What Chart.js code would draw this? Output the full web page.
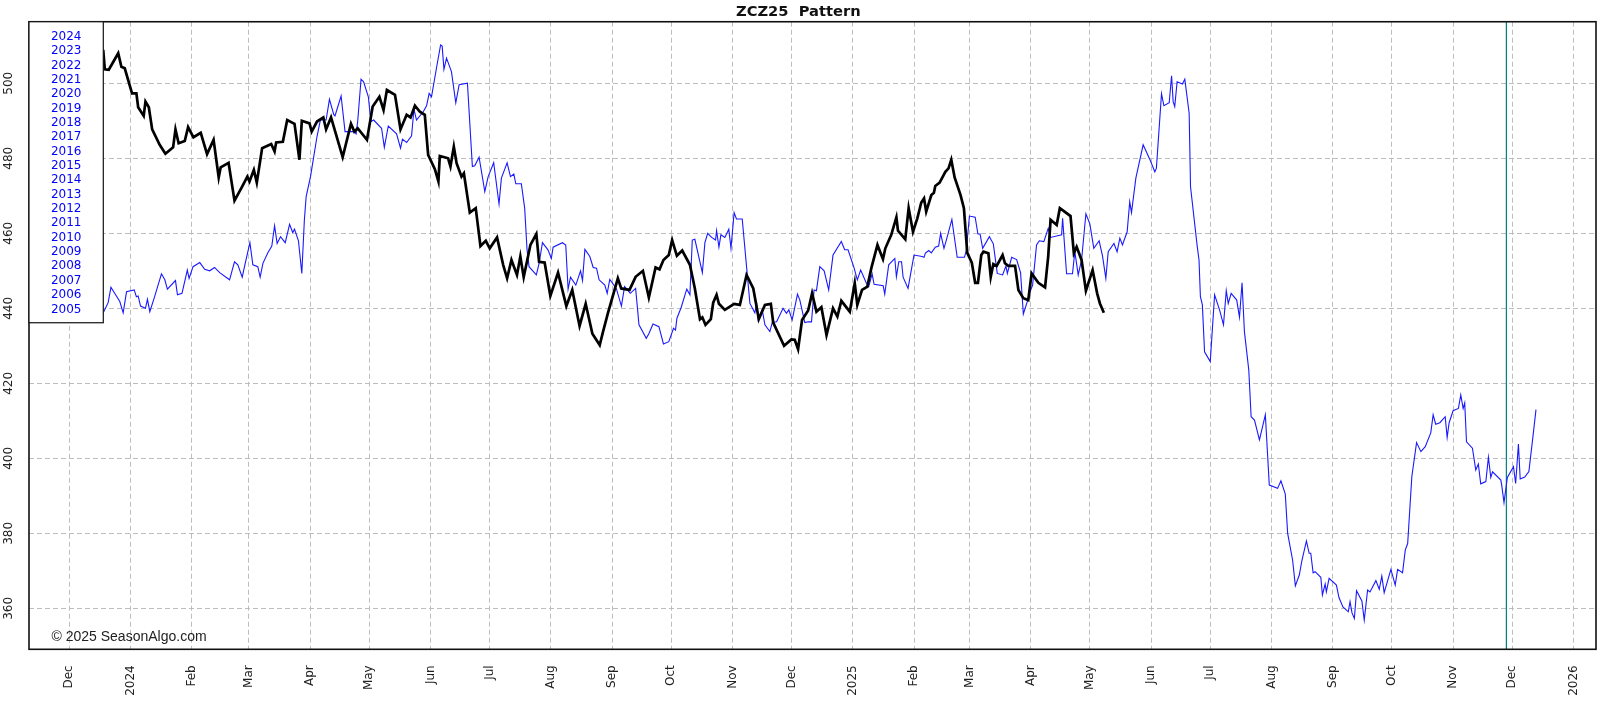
<!DOCTYPE html>
<html lang="en">
<head>
    <meta charset="UTF-8">
    <script src="https://cdn.jsdelivr.net/npm/chart.js"></script>
    <title>ZCZ25 Pattern</title>
    <style>
        body { margin: 0; background: #fff; }
    </style>
</head>
<body>
    <canvas id="pattern" width="1604" height="708"></canvas>
<script>
    // x = days since 1 Dec 2023
    const tickDays = [0, 31, 62, 91, 122, 152, 183, 213, 244, 275, 305, 336, 366, 397, 428, 456, 487, 517, 548, 578, 609, 640, 670, 701, 731, 762];
    const tickLabels = ['Dec', '2024', 'Feb', 'Mar', 'Apr', 'May', 'Jun', 'Jul', 'Aug', 'Sep', 'Oct', 'Nov', 'Dec', '2025', 'Feb', 'Mar', 'Apr', 'May', 'Jun', 'Jul', 'Aug', 'Sep', 'Oct', 'Nov', 'Dec', '2026'];
    const yTicks = [360, 380, 400, 420, 440, 460, 480, 500];
    const legendYears = ['2024', '2023', '2022', '2021', '2020', '2019', '2018', '2017', '2016', '2015', '2014', '2013', '2012', '2011', '2010', '2009', '2008', '2007', '2006', '2005'];
    const markerDay = 728;

    // ZCZ25 (black)
    const blackDays = [17.2, 18, 20, 24.8, 26.4, 28.1, 31.8, 34, 34.9, 37.7, 38.6, 40.3, 42, 45.8, 48.7, 52.6, 53.8, 55.4, 58.5, 60.2, 62.9, 66.6, 69.8, 73.1, 75.7, 76.7, 80.7, 83.7, 87.5, 90.2, 91.3, 93.5, 95, 97.7, 102.3, 104, 104.8, 108.2, 110.4, 114.1, 116.6, 117.8, 121.7, 122.8, 125.5, 128.7, 130.1, 132.6, 138.5, 142.7, 144.4, 146.1, 150.8, 153.7, 157.1, 159.2, 160.9,
        165, 167.8, 170.9, 172.9, 175.1, 177.6, 180.1, 181.8, 185.2, 187, 187.7, 191.9, 193.1, 194.8, 196.2, 198.7, 199.9, 202.9, 205.9, 208.3, 211, 213, 216.7, 219.8, 221.8, 224, 226.8, 228.5, 230.2, 233.6, 236.6, 238, 240.8, 243.7, 247.6, 251.8, 254.8, 258.5, 261.6, 265, 268.7, 270.4, 272.9, 277.9, 279.6, 283.8, 286.9, 290.6, 293.6, 297, 299, 301, 303.7, 305.4, 307.8, 310.5,
        314.4, 316.9, 319.5, 320.7, 322.3, 325, 326.2, 327.9, 329.1, 332.1, 336.8, 339.7, 343.1, 346.5, 349.3, 352.4, 355.4, 356.6, 362.1, 365.8, 367.5, 369.2, 371.2, 374.3, 376.3, 378.5, 381, 383.6, 386.9, 389.1, 391.1, 395.4, 397.9, 399.2, 401.6, 404.3, 406.3, 409.4, 412.2, 413.4, 416.4, 419, 419.8, 423.5, 425.2, 427.4, 429.6, 431.6, 433, 434.1, 436.7, 438, 438.7, 440.9, 443.8, 445.4, 446.8, 448.5, 451.5, 453.2, 454.9, 457.2, 458.9, 460.3, 462,
        463.1, 465.6, 466.8, 468.1, 469.8, 472.8, 474, 475.7, 479.1, 480.8, 483.3, 485.8, 487.5, 490.9, 494.3, 495.9, 497.1, 500.2, 501.8, 507.2, 508.9, 510.3, 512.8, 515, 518.4, 520.7, 522.1, 524.1];
    const blackVals = [508.9, 503.7, 503.6, 508, 504.4, 504, 497.3, 497.3, 493.6, 491.3, 495.1, 493.6, 487.7, 483.6, 481.2, 482.9, 487.7, 484, 484.6, 488.3, 485.6, 486.8, 481.1, 484.9, 474.9, 477.6, 478.8, 468.7, 472.4, 475.1, 473.8, 476.9, 473.5, 482.7, 483.8, 481.8, 484.2, 484.4, 490.2, 489.2, 479.6, 490, 489.3, 487.1, 489.8, 490.9, 487.7, 490.9, 480.3, 489.2, 487.1, 488, 484.9, 493.8, 496.4, 492.9, 498.2,
        496.9, 487.7, 491.6, 490.9, 494, 492.4, 491.6, 480.9, 477.1, 473.8, 480.6, 480, 477.8, 483.1, 478.7, 475.1, 476, 465.5, 466.7, 456.6, 458, 456, 458.9, 451.6, 448, 452.9, 448.9, 453.8, 448.3, 456.9, 459.8, 452.4, 452.2, 443.3, 449.5, 440.6, 444.9, 435.3, 441.2, 433.2, 430.2, 433.8, 438.8, 448, 445.3, 444.9, 448.4, 450, 442.9, 450.9, 450.4, 452.9, 454.2, 458.2, 454, 455.4,
        451.6, 445.3, 437.1, 437.6, 435.6, 437.1, 441.5, 443.6, 441.2, 439.6, 441.2, 440.9, 448.9, 445.3, 437.1, 440.9, 441.2, 436.2, 430, 431.7, 431.6, 429.1, 436.9, 439.4, 444, 439.1, 440.3, 432.9, 440, 437.8, 442, 439.1, 446.7, 440.9, 444.9, 445.8, 450.7, 456.9, 453.1, 456, 459.6, 464.3, 460.7, 458.4, 466.7, 460.4, 464, 468.2, 469.3, 465.8, 470.2, 470.8, 472.6, 473.5, 476.4, 477.3, 479.6, 474.9, 470.2, 466.7, 454.8, 452.2, 446.8, 446.8, 454.2,
        455.1, 454.7, 448.4, 451.8, 451.3, 454.2, 452, 451.3, 451.3, 444.9, 442.7, 442.2, 449.3, 446.8, 445.6, 453.8, 463.6, 462.2, 466.7, 464.6, 454.7, 456.4, 452.9, 444.7, 450.2, 444, 441.3, 438.8];

    // pattern (blue)
    const blueDays = [17.2, 19.7, 21.1, 25.6, 27.3, 29, 32.9, 34, 34.9, 36.1, 38.6, 39.6, 40.8, 43, 46.7, 48.4, 49.7, 53.8, 54.8, 57.1, 59.8, 60.7, 62.7, 66.1, 68.6, 71.1, 73.6, 76.2, 81.2, 83.7, 85.4, 87.6, 89.3, 91.5, 93, 95.5, 96.7, 98.1, 100.6, 102.6, 104, 105.3, 107, 109.4, 111.6, 113.2, 114.1, 116.1, 117.8, 119.1, 120, 122.2, 125.5, 127.2, 130.1, 131.8, 134, 134.6, 137.7, 139.7, 144.4, 145.3, 146.1, 147.8, 149.1, 151.5, 152.8, 154.2, 158.2, 159.6, 161.6,
        165.8, 167.8, 168.8, 170.9, 173.4, 174.6, 175.9, 179.3, 181, 182.3, 183.5, 186, 188.1, 188.9, 189.8, 191.1, 193.6, 195.8, 197.5, 201.7, 204.2, 205.4, 207.6, 210.5, 212.2, 215, 217.7, 218.9, 221.8, 223.5, 225.2, 226.2, 229, 230.7, 231.9, 232.9, 236.6, 238, 239.7, 242.5, 244.2, 245.1, 249.8, 251.5, 252.7, 253.9, 256.6, 259, 260, 261.2, 263.7, 265.4, 267.1, 268.4, 271.3, 272.5, 273.8, 277.1, 279.7, 281.3, 284.2, 286.9, 288.6, 292.3, 293.6, 295.7, 298.7, 301, 303.7, 306.1, 307.1, 307.8, 310, 312.8,
        314.4, 315.6, 316.9, 320.7, 322, 323.4, 325.4, 327.4, 327.9, 329.1, 330.1, 332.1, 334.1, 335.2, 336.8, 338, 340.9, 343.1, 344.8, 347.3, 348.2, 349, 351, 352.4, 354.9, 356.1, 358.3, 361.6, 363.3, 364.5, 366.2, 368.9, 370.1, 372.6, 374.3, 376, 377.3, 378.5, 380.2, 382.4, 384.7, 386.9, 391.1, 392.8, 394.5, 397.6, 399.2, 400.9, 403.8, 405, 406.7, 407.7, 412.3, 413.1, 415.1, 418.2, 419, 420.2, 421.6, 422.4, 424.9, 427.9, 432, 433, 433.7, 435.4, 436.7, 438.7, 440.4, 441.4, 443.1, 444.3, 447.1, 449.8, 453.5, 454.4, 456, 458.9, 460.3,
        461.4, 462.7, 466.1, 468.1, 470.1, 472.8, 474.5, 475.2, 477.4, 479.9, 481.9, 483.3, 485.3, 486.7, 488, 490, 491.4, 493.7, 495.9, 497.1, 502.7, 503.2, 505.2, 508.2, 509.4, 511.1, 512.8, 515, 517, 519, 521.7, 523.4, 525.1, 526.3, 529.2, 530.8, 532.2, 533.5, 535.9, 537.2, 538.1, 540.3, 544, 547.4, 549.9, 550.7, 553.3, 554.5, 557.2, 558.4, 559.2, 560, 561.2, 563.9, 565.1, 567.3, 568, 571.3,
        572.3, 573, 574, 575.1, 578, 580.2, 582.7, 584.7, 586.1, 587.1, 588.6, 591.4, 592.8, 594.1, 595.3, 597.5, 598.7, 600.4, 602.9, 605.9, 607.9, 612.1, 613.8, 616, 617.2, 619.7, 621.1, 623.1, 624.4, 626.7, 628.1, 628.9, 630.1, 631.1, 634, 634.8, 636.2, 636.8, 638.2, 641.9, 643.2, 645.2, 647.9,
        648.8, 649.8, 651, 652.1, 654.8, 656, 657.7, 658.9, 661.9, 663.6, 664.9, 666.1, 669.5, 671.7, 672.9, 675.4, 676.8, 678, 680.1, 682.5, 684.7, 686.9, 689.7, 690.9, 692.2, 694.3, 697, 698, 699, 701, 703.7, 704.9, 706.1, 706.9, 707.8, 710.8, 712.5, 713.8, 715, 717.6, 718.9, 720.1, 721, 725.2, 725.7, 726.8, 728.5, 731.6, 732.7, 734.1, 735, 737.3, 739.4, 741.5, 743];
    const blueVals = [438.8, 441.5, 445.6, 441.8, 438.8, 444.4, 444.9, 443.1, 443.3, 440.6, 440, 442.4, 439.1, 442.7, 449.2, 447.6, 445.1, 447.4, 443.6, 444, 450.2, 448, 451.1, 452.2, 450.4, 450, 450.9, 449.5, 447.6, 452.4, 451.6, 448.3, 452.4, 457.5, 451.6, 451.1, 448.3, 452, 454.8, 456.6, 462, 457.3, 459.1, 457.5, 462.4, 460.2, 461.1, 458, 449.3, 463.6, 469.8, 475.1, 485.8, 490.2, 490.2, 495.7, 491.6, 491.3, 496.6, 487.1, 487.1, 486.5, 489.8, 501.1, 500.4, 496.4, 489.8, 490.2, 488, 482.9, 488.6,
        486.5, 482.7, 485.1, 484.2, 486, 493.1, 490.2, 492.4, 494, 497.3, 496.4, 504, 510.2, 509.9, 503.7, 506.7, 503.1, 494.8, 499.6, 500, 477.8, 478, 480.3, 471.1, 475.1, 478.8, 467.8, 474.7, 478.8, 475.1, 475.8, 473.2, 473.2, 466.7, 455.6, 451.1, 448.9, 452, 457.5, 455.6, 453.3, 456.3, 457.5, 456.9, 445.1, 448.3, 446.2, 450, 447.4, 455.7, 453.8, 450.9, 450.7, 447.6, 446.2, 444, 447.7, 445.3, 440.6, 445.8, 444, 445.3, 435.6, 432, 433.2, 435.8, 435.1, 430.5, 431.1, 434.7, 434.2, 437.3, 440.3, 445.1,
        443.6, 458.2, 458.4, 449.5, 457.5, 460, 458.9, 458.2, 460.7, 456.3, 459.6, 458.9, 461.1, 456, 465.5, 463.8, 463.8, 451.1, 441.3, 438.8, 441.3, 436.9, 439.7, 435.6, 433.8, 436.2, 436.4, 440, 438.7, 439.6, 436.9, 443.8, 442.2, 436.2, 436.4, 436.4, 444.9, 444.7, 451.1, 450, 444.9, 454.2, 457.8, 455.6, 455.6, 450.7, 447.6, 450.2, 446.7, 445.8, 449.2, 446.4, 446, 443.8, 451.6, 453.3, 448.4, 452.4, 452.4, 448.3, 445.3, 454.2, 453.8, 453.6, 454.7, 455.4, 454.8, 456.3, 456.6, 460, 456, 458.2, 463.7, 453.6, 453.6, 455.4, 464.6, 464.3, 459.8,
        459.8, 456, 459.1, 457.2, 449.3, 448.9, 451.3, 449.3, 453.6, 453, 449.5, 438.5, 441.8, 444.4, 446.2, 456.9, 458, 457.8, 461.3, 458.9, 459.6, 464, 449.2, 449.2, 455.1, 448.9, 452.9, 465.2, 462.5, 456, 458, 454, 448, 455.1, 457.3, 455.1, 458.7, 456.9, 460.4, 468.4, 465.5, 474.7, 483.6, 479.7, 476.4, 477.3, 497.2, 494, 494.8, 502, 495.1, 493.8, 500.4, 499.8, 501.1, 492, 472.4, 456.9,
        452.9, 443.1, 440.9, 428.4, 425.8, 443.6, 439.6, 435.6, 444.7, 441.3, 444, 442.2, 437.6, 446.8, 433.8, 423.6, 411.1, 410.2, 404.9, 411.6, 392.9, 392, 394, 390.5, 380, 372.9, 366, 368.9, 372.7, 378, 374.7, 374.7, 369.5, 369.8, 368.3, 363.6, 366.5, 364.4, 368, 366.2, 362.9, 360.4, 359.1,
        361.8, 358.8, 357.3, 364.7, 362, 356.9, 364.9, 364.4, 367.4, 365.1, 368.6, 364.2, 370.4, 366.2, 370.4, 369.5, 375.6, 377.3, 395.1, 404.2, 401.8, 403.1, 406.8, 411.6, 409.1, 409.5, 411.1, 405.6, 409.5, 412.7, 413.3, 416.9, 413.3, 414.8, 404.4, 402.7, 396.9, 398.5, 393.2, 393.8, 400.3, 394.9, 396.4, 394.2, 392.6, 388.2, 394.9, 397.8, 393.3, 403.8, 394.5, 395, 396.5, 406, 413];

    const toPoints = (days, vals) => days.map((d, i) => ({ x: d, y: vals[i] }));

    Chart.defaults.font.family = "'DejaVu Sans', sans-serif";
    Chart.defaults.color = '#222';

    // frame, marker line, year box and copyright
    const extras = {
        id: 'extras',
        beforeDatasetsDraw(chart) {
            const { ctx, chartArea: a, scales } = chart;
            const mx = scales.x.getPixelForValue(markerDay);
            ctx.save();
            ctx.strokeStyle = '#008080';
            ctx.lineWidth = 1.2;
            ctx.beginPath();
            ctx.moveTo(mx, a.top);
            ctx.lineTo(mx, a.bottom);
            ctx.stroke();
            ctx.restore();
        },
        afterDatasetsDraw(chart) {
            const { ctx, chartArea: a } = chart;
            ctx.save();
            ctx.strokeStyle = '#111';
            ctx.lineWidth = 1.6;
            ctx.strokeRect(a.left, a.top, a.right - a.left, a.bottom - a.top);

            const bw = 74.3, bh = 301;
            ctx.fillStyle = '#fff';
            ctx.fillRect(a.left, a.top, bw, bh);
            ctx.lineWidth = 1.2;
            ctx.strokeRect(a.left, a.top, bw, bh);
            ctx.fillStyle = '#0000ff';
            ctx.font = "12px 'DejaVu Sans'";
            ctx.textAlign = 'center';
            ctx.textBaseline = 'middle';
            legendYears.forEach((yr, i) => {
                ctx.fillText(yr, a.left + bw / 2, a.top + 15 + i * 14.35);
            });

            ctx.fillStyle = '#222';
            ctx.font = "14px 'Liberation Sans'";
            ctx.textAlign = 'left';
            ctx.textBaseline = 'alphabetic';
            ctx.fillText('\u00a9 2025 SeasonAlgo.com', a.left + 22.5, a.bottom - 8.5);
            ctx.restore();
        }
    };

    new Chart(document.getElementById('pattern'), {
        type: 'line',
        data: {
            datasets: [{
                label: 'ZCZ25',
                data: toPoints(blackDays, blackVals),
                borderColor: '#000',
                borderWidth: 2.7,
                pointRadius: 0,
                tension: 0
            }, {
                label: 'Pattern',
                data: toPoints(blueDays, blueVals),
                borderColor: 'rgb(25,25,255)',
                borderWidth: 1.1,
                pointRadius: 0,
                tension: 0
            }]
        },
        options: {
            responsive: false,
            animation: false,
            events: [],
            layout: { padding: { right: 7.3 } },
            plugins: {
                legend: { display: false },
                tooltip: { enabled: false },
                title: {
                    display: true,
                    text: 'ZCZ25  Pattern',
                    color: '#111',
                    font: { size: 14.7, weight: 'bold' },
                    padding: { top: 3, bottom: 1.1 }
                }
            },
            scales: {
                x: {
                    type: 'linear',
                    min: -20.4,
                    max: 773.4,
                    afterBuildTicks: s => { s.ticks = tickDays.map(v => ({ value: v })); },
                    afterFit: s => { s.height = 58.7; },
                    ticks: {
                        autoSkip: false,
                        minRotation: 90,
                        maxRotation: 90,
                        padding: 16,
                        font: { size: 12 },
                        callback: (v, i) => tickLabels[i]
                    },
                    grid: { color: '#bdbdbd', lineWidth: 1, drawTicks: false },
                    border: { display: false, dash: [5, 3] }
                },
                y: {
                    min: 349.1,
                    max: 516.4,
                    afterBuildTicks: s => { s.ticks = yTicks.map(v => ({ value: v })); },
                    afterFit: s => { s.width = 29; },
                    ticks: {
                        autoSkip: false,
                        minRotation: 90,
                        maxRotation: 90,
                        crossAlign: 'center',
                        padding: 8.3,
                        font: { size: 12 }
                    },
                    grid: { color: '#bdbdbd', lineWidth: 1, drawTicks: false },
                    border: { display: false, dash: [5, 3] }
                }
            }
        },
        plugins: [extras]
    });
</script>
</body>
</html>
